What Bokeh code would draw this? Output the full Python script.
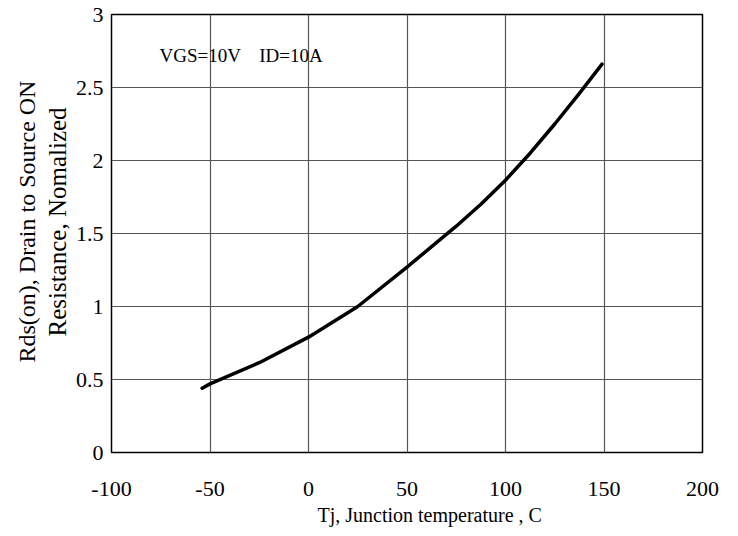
from bokeh.plotting import figure
from bokeh.models import Label, FixedTicker, Range1d, Title
from bokeh.embed import file_html
from bokeh.resources import INLINE

# ---- data ----
tj = [-54, -50, -25, 0, 25, 50, 75, 87.5, 100, 112.5, 125, 137.5, 149]
rds_norm = [0.44, 0.47, 0.615, 0.79, 1.0, 1.27, 1.55, 1.70, 1.865, 2.05, 2.25, 2.46, 2.66]

x_ticks = [-100, -50, 0, 50, 100, 150, 200]
x_tick_labels = ["-100", "-50", "0", "50", "100", "150", "200"]
y_ticks = [0, 0.5, 1, 1.5, 2, 2.5, 3]
y_tick_labels = ["0", "0.5", "1", "1.5", "2", "2.5", "3"]

title_text = "and Drain Current"
note_vgs = "VGS=10V"
note_id = "ID=10A"
x_label = "Tj, Junction temperature , C"
y_label_1 = "Rds(on), Drain to Source ON"
y_label_2 = "Resistance, Nomalized"

FONT = "Liberation Serif"
W, H = 730, 528

p = figure(width=W, height=H, output_backend="svg", toolbar_location=None,
           x_range=Range1d(-100, 200), y_range=Range1d(0, 3),
           min_border_left=111, min_border_right=W - 702,
           min_border_top=14, min_border_bottom=H - 453)
p.background_fill_color = "white"
p.border_fill_color = "white"
p.outline_line_color = "black"
p.outline_line_width = 1.5

for ax in (p.xaxis, p.yaxis):
    ax.axis_line_color = None
    ax.major_tick_line_color = None
    ax.minor_tick_line_color = None
    ax.major_tick_out = 0
    ax.major_tick_in = 0
    ax.minor_tick_out = 0
    ax.minor_tick_in = 0
    ax.major_label_text_font = FONT
    ax.major_label_text_font_size = "22px"
    ax.major_label_text_color = "black"

p.xaxis.ticker = FixedTicker(ticks=x_ticks)
p.xaxis.major_label_overrides = dict(zip(x_ticks, x_tick_labels))
p.xaxis.major_label_standoff = 29
p.yaxis.ticker = FixedTicker(ticks=y_ticks)
p.yaxis.major_label_overrides = dict(zip(y_ticks, y_tick_labels))
p.yaxis.major_label_standoff = 8

p.xgrid.ticker = FixedTicker(ticks=x_ticks)
p.ygrid.ticker = FixedTicker(ticks=y_ticks)
for g in (p.xgrid, p.ygrid):
    g.grid_line_color = "#555555"
    g.grid_line_width = 1.2

p.line(tj, rds_norm, line_color="black", line_width=3.5, line_cap="round", line_join="round")


def add_note(text, x, y, size, align="left", baseline="middle"):
    p.add_layout(Label(x=x, y=y, text=text, text_align=align, text_baseline=baseline,
                       text_font=FONT, text_font_size=size, text_color="black"))


def add_title(text, side, offset, standoff, size):
    p.add_layout(Title(text=text, align="left", offset=offset, standoff=standoff,
                       text_font=FONT, text_font_size=size, text_font_style="normal",
                       text_color="black"), side)


add_note(note_vgs, -75.6, 2.72, "19px")
add_note(note_id, -25, 2.72, "19px")
add_note(title_text, 50, 3.08, "24px", align="center", baseline="alphabetic")

add_title(x_label, "below", 206, 6, "20px")
# y-axis title: inner line first, then outer line
add_title(y_label_2, "left", 116, 4, "25px")
add_title(y_label_1, "left", 90, 0, "24px")

open("out.html", "w").write(file_html(p, INLINE))
